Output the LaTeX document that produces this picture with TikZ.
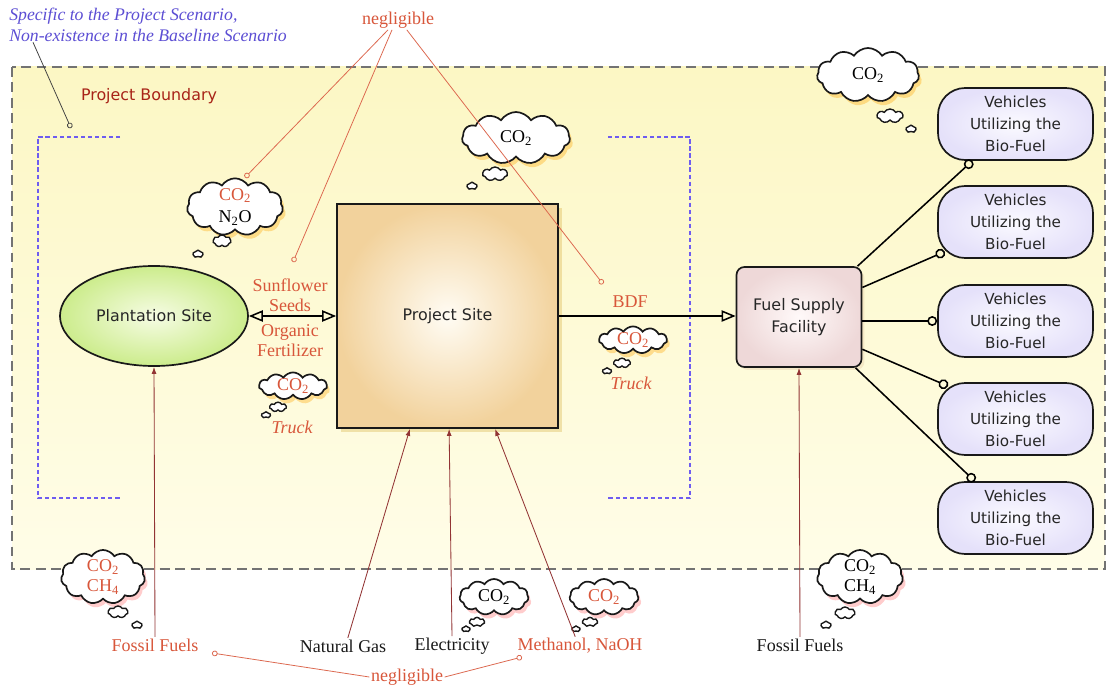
\documentclass[tikz,border=0pt]{standalone}
\usepackage{fontspec}
\setmainfont{Liberation Serif}
\setsansfont{DejaVu Sans}
\usepackage{tikz}
\usetikzlibrary{arrows.meta,shapes.symbols,shapes.geometric,shadows}
\definecolor{negred}{RGB}{216,86,58}
\definecolor{pbred}{RGB}{168,36,24}
\definecolor{inred}{RGB}{146,52,52}
\definecolor{noteblu}{RGB}{92,78,212}
\definecolor{brkblu}{RGB}{110,92,240}
\definecolor{bndtop}{RGB}{252,247,196}
\definecolor{bndbot}{RGB}{255,253,232}
\definecolor{plantin}{RGB}{246,252,228}
\definecolor{plantout}{RGB}{204,236,140}
\definecolor{sitein}{RGB}{255,252,244}
\definecolor{siteout}{RGB}{242,210,156}
\definecolor{fuelin}{RGB}{255,249,249}
\definecolor{fuelout}{RGB}{238,216,216}
\definecolor{vehin}{RGB}{251,250,255}
\definecolor{vehout}{RGB}{229,225,250}

\begin{document}
\begin{tikzpicture}[x=0.025cm,y=-0.025cm,
  sanstxt/.style={font=\sffamily\fontsize{11.3}{15.6}\selectfont,text=black!85},
  redtxt/.style={font=\fontsize{12.8}{14.4}\selectfont,text=negred,align=center,inner sep=1pt},
  blktxt/.style={font=\fontsize{12.8}{14.4}\selectfont,text=black!90,inner sep=1pt},
  trucktxt/.style={redtxt,font=\fontsize{12.8}{14.4}\selectfont\itshape},
  plant/.style={ellipse,draw=black!90,line width=1.2pt,minimum width=4.7cm,minimum height=2.5cm,inner color=plantin,outer color=plantout,sanstxt},
  site/.style={rectangle,draw=black!90,line width=1.2pt,minimum width=5.525cm,minimum height=5.6cm,inner color=sitein,outer color=siteout,sanstxt,
    drop shadow={fill=brown!70!yellow,opacity=.3,shadow xshift=3pt,shadow yshift=-3pt}},
  fuel/.style={rectangle,rounded corners=0.2cm,draw=black!90,line width=1.2pt,minimum width=3.125cm,minimum height=2.5cm,inner color=fuelin,outer color=fuelout,sanstxt,align=center,
    drop shadow={fill=brown!60,opacity=.25,shadow xshift=2pt,shadow yshift=-2pt}},
  veh/.style={rectangle,rounded corners=0.68cm,draw=black!90,line width=1.2pt,minimum width=3.875cm,minimum height=1.8cm,inner color=vehin,outer color=vehout,sanstxt,
    font=\sffamily\fontsize{10.8}{15.6}\selectfont,align=center},
  cldbase/.style={cloud,cloud puffs=11,cloud puff arc=115,cloud ignores aspect,draw=black!90,line width=1.2pt,fill=white,inner sep=0pt,align=center,
    font=\fontsize{12.8}{16}\selectfont},
  cldin/.style={cldbase,drop shadow={fill=orange!70!yellow,opacity=.35,shadow xshift=2pt,shadow yshift=-3pt}},
  cldout/.style={cldbase,drop shadow={fill=red!65,opacity=.3,shadow xshift=2pt,shadow yshift=-3pt}},
  puff/.style={cloud,cloud puffs=7,cloud puff arc=120,cloud ignores aspect,draw=black!90,line width=1pt,fill=white,inner sep=0pt},
  dot/.style={cloud,cloud puffs=5,cloud puff arc=120,cloud ignores aspect,draw=black!90,line width=1pt,fill=white,inner sep=0pt,minimum width=0.25cm,minimum height=0.19cm},
  flow/.style={line width=1.1pt,-{Triangle[open,length=10pt,width=8pt]}},
  dflow/.style={line width=1.1pt,{Triangle[open,length=10pt,width=8pt]}-{Triangle[open,length=10pt,width=8pt]}},
  vlink/.style={line width=1.1pt,-{Circle[open,length=7pt]}},
  feed/.style={inred,line width=.6pt,-{Latex[length=5pt,width=3.5pt]}},
  negline/.style={negred!90,line width=.55pt,-{Circle[open,length=4pt]}},
  noteline/.style={black!75,line width=.55pt,-{Circle[open,length=4pt]}},
  bnd/.style={black!55,line width=1.2pt,dash pattern=on 7pt off 4pt},
  brk/.style={brkblu,line width=1pt,dash pattern=on 3pt off 2pt}]

\fill[white] (0,0) rectangle (1110,689);
\useasboundingbox (0,0) rectangle (1110,689);

%% project boundary
\shade[top color=bndtop,bottom color=bndbot] (12,67) rectangle (1105,569);
\draw[bnd] (12,67) rectangle (1105,569);
\draw[brk] (120,137) -- (38,137) -- (38,498) -- (120,498);
\draw[brk] (608,137) -- (690,137) -- (690,498) -- (608,498);

%% labels at the top
\node[anchor=north west,inner sep=0pt,align=left,text=noteblu,font=\fontsize{12.6}{15}\selectfont\itshape] (note) at (9,8)
  {Specific to the Project Scenario,\\Non-existence in the Baseline Scenario};
\node[sanstxt,text=pbred] (pb) at (149,96) {Project Boundary};
\node[redtxt] (neg1) at (398,20) {negligible};

%% main sites
\node[plant] (plant) at (154,316) {Plantation Site};
\node[site] (site) at (447.5,316) {Project Site};
\node[fuel] (fuel) at (799,317) {Fuel Supply\\Facility};
\node[veh] (v1) at (1015.5,124) {Vehicles\\Utilizing the\\Bio-Fuel};
\node[veh] (v2) at (1015.5,222) {Vehicles\\Utilizing the\\Bio-Fuel};
\node[veh] (v3) at (1015.5,321) {Vehicles\\Utilizing the\\Bio-Fuel};
\node[veh] (v4) at (1015.5,419) {Vehicles\\Utilizing the\\Bio-Fuel};
\node[veh] (v5) at (1015.5,518) {Vehicles\\Utilizing the\\Bio-Fuel};

%% flow labels
\node[redtxt] (seeds) at (290,295) {Sunflower\\Seeds};
\node[redtxt] (fert) at (290,341) {Organic\\Fertilizer};
\node[redtxt] (bdf) at (630,302) {BDF};
\node[trucktxt] (truckl) at (292,427) {Truck};
\node[trucktxt] (truckr) at (631,383) {Truck};

%% clouds inside the boundary
\node[cldin,minimum width=2.4cm,minimum height=1.35cm] (cN2O) at (235,207) {\textcolor{negred}{CO\textsubscript{2}}\\N\textsubscript{2}O};
\node[puff,minimum width=0.45cm,minimum height=0.3cm] (cN2Oa) at (222,241) {};
\node[dot] (cN2Ob) at (198,254) {};
\node[cldin,minimum width=2.7cm,minimum height=1.3cm] (cTop) at (516,138) {CO\textsubscript{2}};
\node[puff,minimum width=0.62cm,minimum height=0.35cm] (cTopa) at (495,174) {};
\node[dot] (cTopb) at (472,186) {};
\node[cldin,minimum width=1.7cm,minimum height=0.68cm,text=negred] (cTrL) at (293,386) {CO\textsubscript{2}};
\node[puff,minimum width=0.42cm,minimum height=0.24cm] (cTrLa) at (278,407) {};
\node[dot,minimum width=0.22cm,minimum height=0.16cm] (cTrLb) at (266,415) {};
\node[cldin,minimum width=1.7cm,minimum height=0.68cm,text=negred] (cTrR) at (633,340) {CO\textsubscript{2}};
\node[puff,minimum width=0.42cm,minimum height=0.24cm] (cTrRa) at (622,363) {};
\node[dot,minimum width=0.22cm,minimum height=0.16cm] (cTrRb) at (607,371) {};
\node[cldin,minimum width=2.55cm,minimum height=1.35cm] (cVeh) at (868,75) {CO\textsubscript{2}};
\node[puff,minimum width=0.65cm,minimum height=0.35cm] (cVeha) at (890,116) {};
\node[dot] (cVehb) at (911,129) {};

%% inputs below the boundary
\node[redtxt] (ffl) at (155,645) {Fossil Fuels};
\node[blktxt] (ng) at (343,646) {Natural Gas};
\node[blktxt] (elec) at (452,646) {Electricity};
\node[redtxt] (meth) at (580,646) {Methanol, NaOH};
\node[blktxt] (ffr) at (800,645) {Fossil Fuels};
\node[redtxt] (neg2) at (407,677) {negligible};

\node[cldout,minimum width=2.1cm,minimum height=1.3cm,text=negred,font=\fontsize{12.8}{14.4}\selectfont] (cFL) at (103,577) {CO\textsubscript{2}\\CH\textsubscript{4}};
\node[puff,minimum width=0.5cm,minimum height=0.3cm] (cFLa) at (118,612) {};
\node[dot] (cFLb) at (137,625) {};
\node[cldout,minimum width=2.15cm,minimum height=1.3cm,font=\fontsize{12.8}{14.4}\selectfont] (cFR) at (860,577) {CO\textsubscript{2}\\CH\textsubscript{4}};
\node[puff,minimum width=0.5cm,minimum height=0.3cm] (cFRa) at (845,613) {};
\node[dot] (cFRb) at (826,625) {};
\node[cldout,minimum width=1.72cm,minimum height=0.9cm] (cEl) at (494,597) {CO\textsubscript{2}};
\node[puff,minimum width=0.38cm,minimum height=0.23cm] (cEla) at (477,622) {};
\node[dot,minimum width=0.2cm,minimum height=0.15cm] (cElb) at (466,629) {};
\node[cldout,minimum width=1.72cm,minimum height=0.9cm,text=negred] (cMe) at (604,597) {CO\textsubscript{2}};
\node[puff,minimum width=0.38cm,minimum height=0.23cm] (cMea) at (590,622) {};
\node[dot,minimum width=0.2cm,minimum height=0.15cm] (cMeb) at (576,629) {};

%% free ends of the pointer lines
\coordinate (pNote) at (71,128);
\coordinate (pSeed) at (293,262);
\coordinate (pBDF) at (603,284);
\coordinate (pFFL) at (212,653);
\coordinate (pMeth) at (522,657);

%% connectors
\draw[dflow] (plant.east) -- (plant.east -| site.west);
\draw[flow] (site.east) -- (site.east -| fuel.west);
\draw[vlink] (fuel.41) -- ([xshift=0.88cm]v1.south west);
\draw[vlink] (fuel.25) -- ([xshift=0.19cm,yshift=0.18cm]v2.south west);
\draw[vlink] (fuel.east |- v3.west) -- (v3.west);
\draw[vlink] (fuel.-27) -- ([xshift=0.27cm,yshift=-0.1cm]v4.north west);
\draw[vlink] (fuel.-42) -- ([xshift=0.94cm]v5.north west);

\draw[feed] (ffl.north) -- (plant.south);
\draw[feed] ([xshift=0.12cm]ng.north) -- ([xshift=-0.94cm]site.south);
\draw[feed] (elec.north) -- ([xshift=0.04cm]site.south);
\draw[feed] ([xshift=-0.12cm]meth.north) -- ([xshift=1.19cm]site.south);
\draw[feed] (ffr.north) -- (fuel.south);

\draw[noteline] ([xshift=0.6cm]note.south west) -- (pNote);
\draw[negline] ([xshift=-0.25cm]neg1.south) -- ([xshift=0.25cm]cN2O.north);
\draw[negline] ([xshift=-0.15cm]neg1.south) -- (pSeed);
\draw[negline] ([xshift=0.22cm]neg1.south) -- (pBDF);
\draw[negline] (neg2.west) -- (pFFL);
\draw[negline] (neg2.east) -- (pMeth);
\end{tikzpicture}
\end{document}
